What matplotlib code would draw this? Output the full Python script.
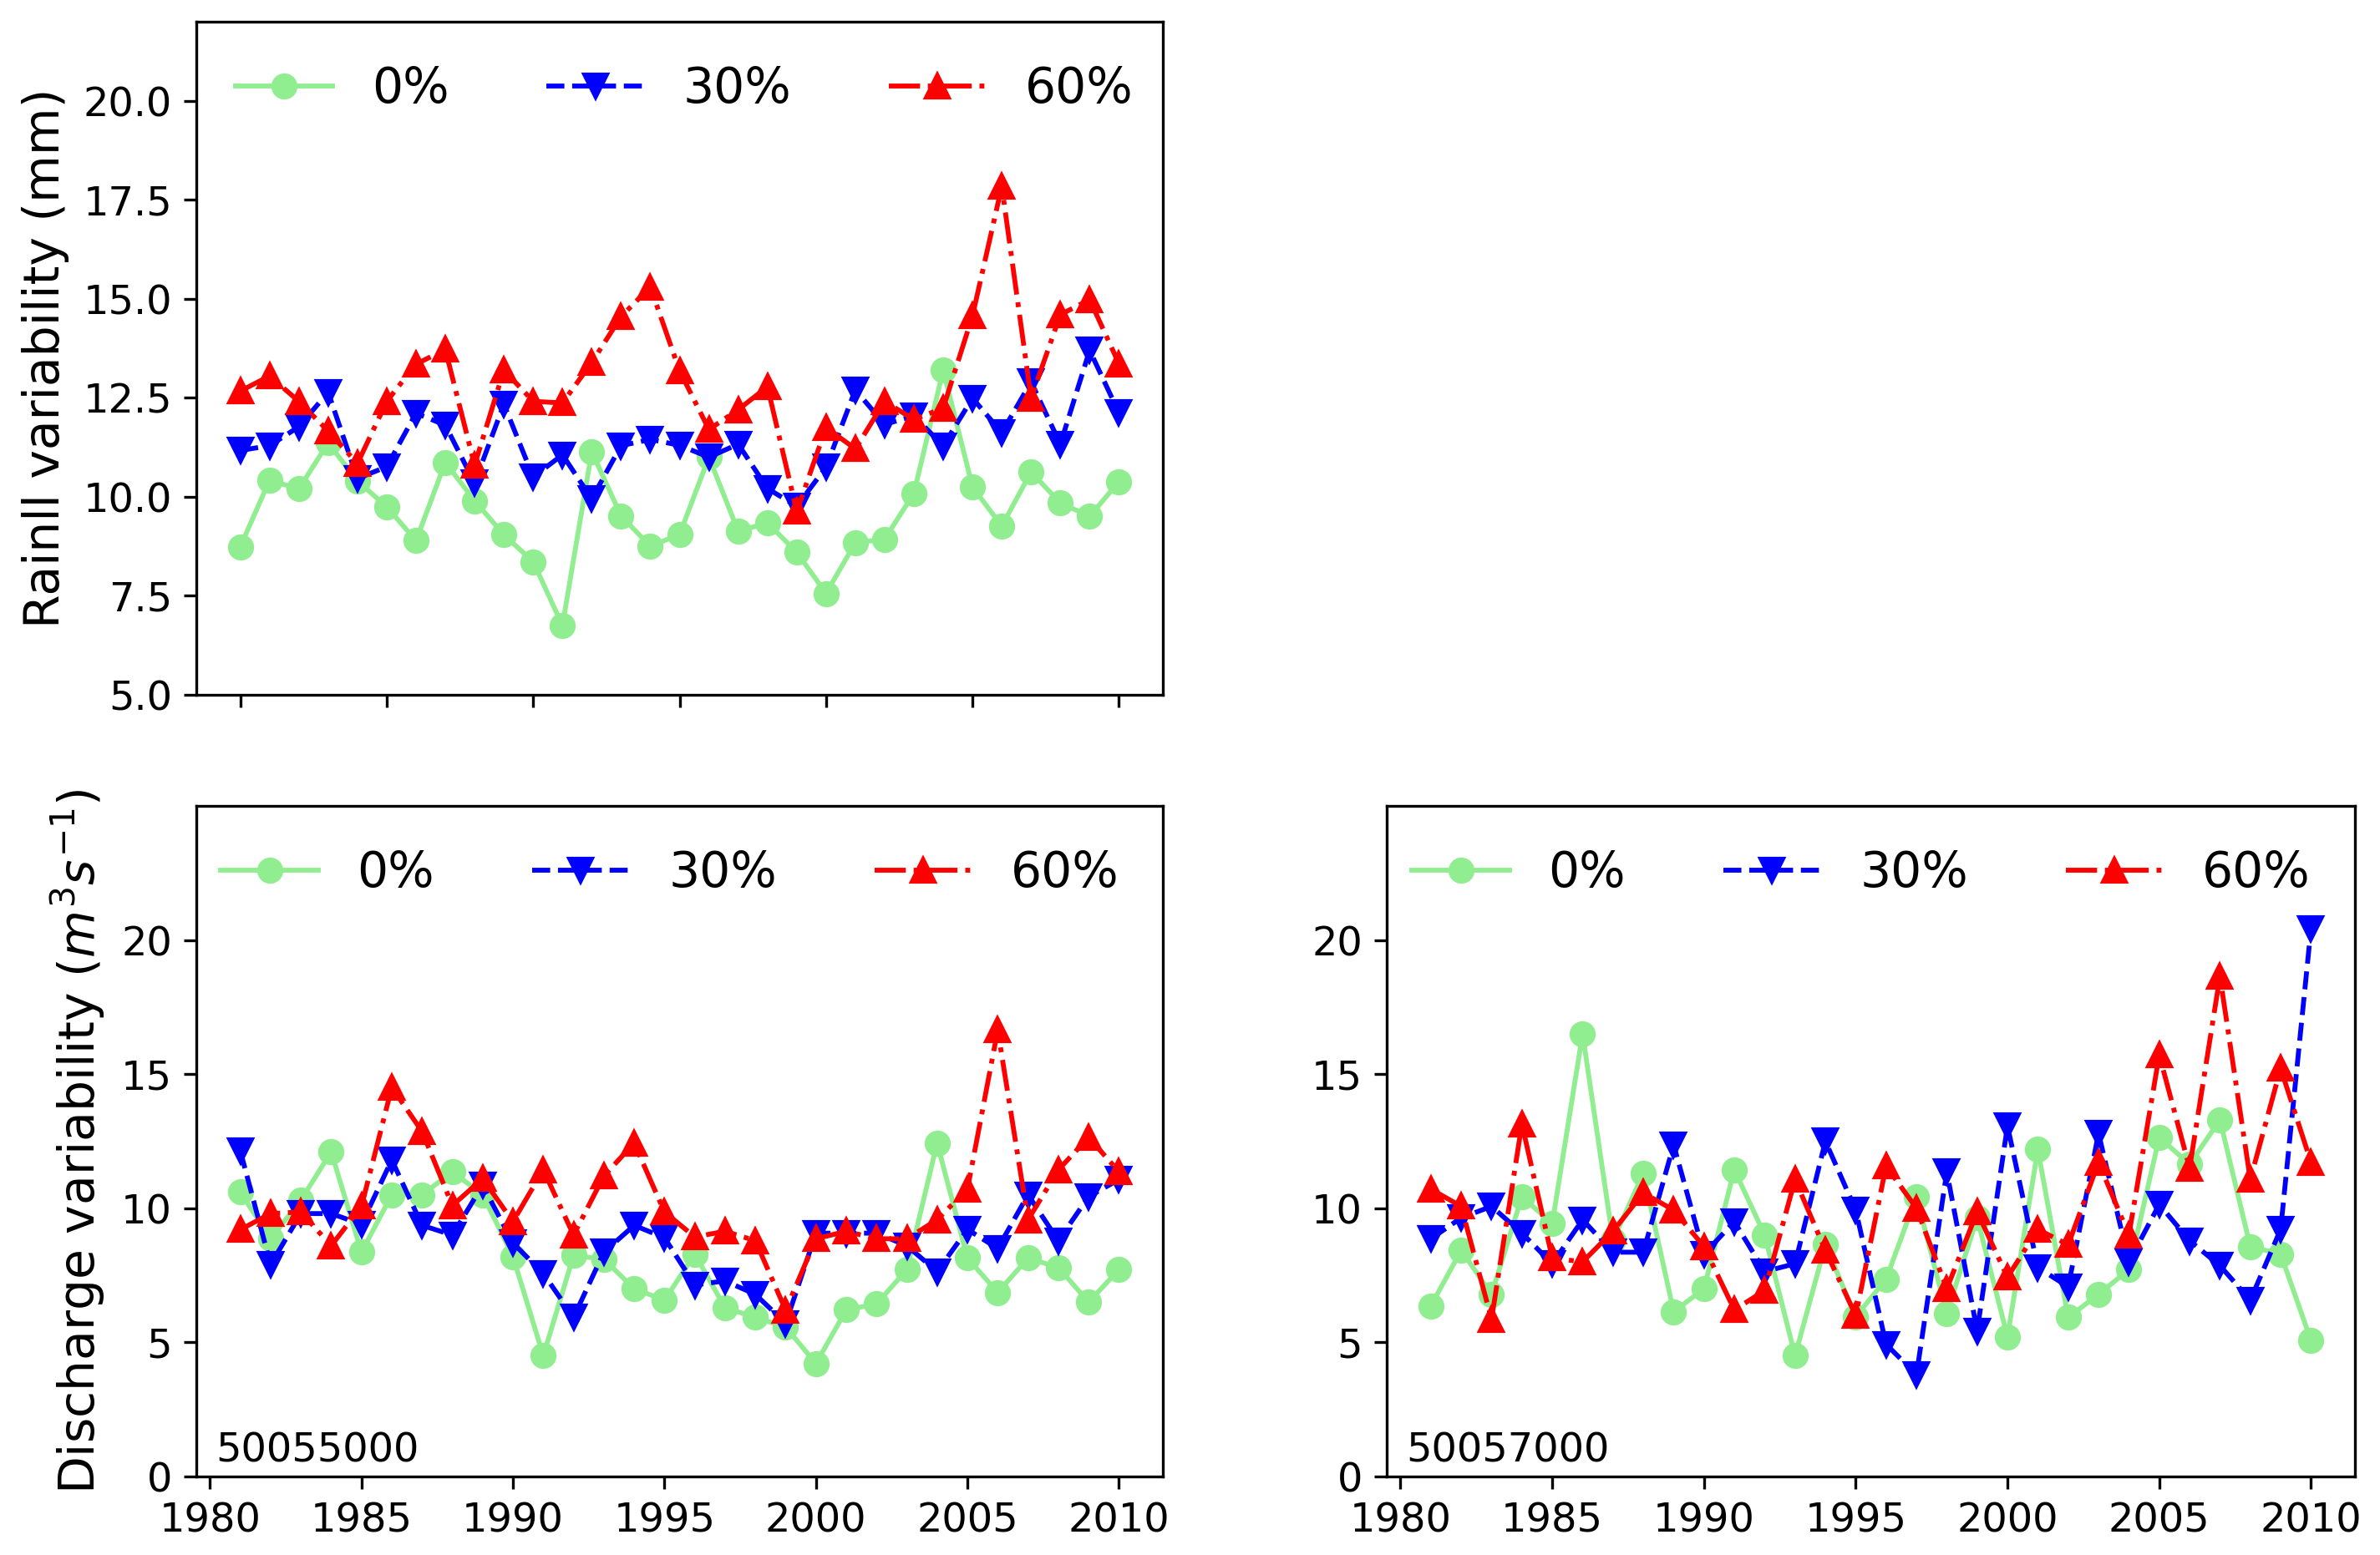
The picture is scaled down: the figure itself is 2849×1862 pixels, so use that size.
import matplotlib
matplotlib.use("Agg")
import matplotlib.pyplot as plt

plt.rcParams['font.family'] = ['DejaVu Sans']

years_rain = list(range(1980, 2011))
years_dis = list(range(1981, 2011))
labels = ['0%', '30%', '60%']
yticks_dis = [0, 5, 10, 15, 20]

rain_0 = [8.74, 10.42, 10.2, 11.36, 10.4, 9.75, 8.89, 10.87, 9.9, 9.04,
          8.36, 6.75, 11.14, 9.52, 8.75, 9.05, 11.0, 9.13, 9.34, 8.6,
          7.56, 8.84, 8.93, 10.09, 13.2, 10.25, 9.26, 10.63, 9.84, 9.51, 10.38]
rain_30 = [11.17, 11.29, 11.77, 12.64, 10.46, 10.76, 12.11, 11.81, 10.35, 12.34,
           10.5, 11.06, 9.95, 11.29, 11.45, 11.3, 11.0, 11.33, 10.21, 9.76,
           10.75, 12.7, 11.83, 12.04, 11.29, 12.49, 11.62, 12.9, 11.33, 13.7, 12.12]
rain_60 = [12.67, 13.05, 12.41, 11.66, 10.84, 12.41, 13.35, 13.72, 10.8, 13.2,
           12.41, 12.37, 13.39, 14.55, 15.3, 13.18, 11.7, 12.2, 12.78, 9.63,
           11.75, 11.21, 12.41, 11.95, 12.24, 14.57, 17.84, 12.49, 14.6, 14.98, 13.36]

dis1_0 = [10.6, 8.86, 10.3, 12.1, 8.36, 10.5, 10.5, 11.36, 10.5, 8.2,
          4.5, 8.24, 8.1, 7.0, 6.57, 8.29, 6.29, 5.93, 5.57, 4.21,
          6.21, 6.43, 7.71, 12.43, 8.14, 6.86, 8.14, 7.79, 6.5, 7.71]
dis1_30 = [12.14, 7.9, 9.8, 9.8, 9.4, 11.8, 9.36, 9.0, 10.86, 8.7,
           7.57, 5.93, 8.36, 9.36, 8.9, 7.14, 7.29, 6.79, 5.71, 9.07,
           9.07, 9.07, 8.6, 7.64, 9.21, 8.5, 10.5, 8.79, 10.43, 11.07]
dis1_60 = [9.2, 9.8, 9.86, 8.6, 10.07, 14.5, 12.86, 10.1, 11.1, 9.5,
           11.43, 9.0, 11.2, 12.43, 9.86, 8.93, 9.14, 8.79, 6.2, 8.86,
           9.14, 8.86, 8.86, 9.57, 10.71, 16.64, 9.57, 11.43, 12.64, 11.36]

dis2_0 = [6.36, 8.43, 6.79, 10.43, 9.43, 16.5, 8.8, 11.29, 6.14, 7.0,
          11.43, 9.0, 4.5, 8.64, 5.95, 7.36, 10.43, 6.07, 9.64, 5.21,
          12.19, 5.93, 6.79, 7.71, 12.64, 11.64, 13.29, 8.57, 8.29, 5.07]
dis2_30 = [8.86, 9.64, 10.07, 9.07, 7.93, 9.57, 8.36, 8.36, 12.36, 8.29,
           9.5, 7.64, 7.93, 12.5, 9.93, 4.93, 3.79, 11.36, 5.43, 13.07,
           7.79, 7.07, 12.79, 8.0, 10.14, 8.79, 7.86, 6.57, 9.21, 20.43]
dis2_60 = [10.71, 10.07, 5.86, 13.14, 8.14, 8.0, 9.14, 10.57, 9.93, 8.57,
           6.21, 6.93, 11.07, 8.43, 6.0, 11.57, 10.0, 7.0, 9.86, 7.43,
           9.21, 8.64, 11.71, 9.0, 15.71, 11.5, 18.64, 11.07, 15.21, 11.71]

stations = ['50055000', '50057000']

styles = [dict(color='lightgreen', linestyle='-', marker='o'),
          dict(color='blue', linestyle='--', marker='v'),
          dict(color='red', linestyle='-.', marker='^')]

TICK_FS = 11.5
LEG_FS = 14
LAB_FS = 14

fig = plt.figure(figsize=(2849 / 300, 1862 / 300), dpi=300)
ax_top = fig.add_axes([0.0825, 0.5532, 0.4061, 0.4329])
ax_bl = fig.add_axes([0.0825, 0.0505, 0.4061, 0.4313])
ax_br = fig.add_axes([0.5827, 0.0505, 0.4068, 0.4313])


def draw(ax, x, series, anchor_x):
    for s, st, lab in zip(series, styles, labels):
        ax.plot(x, s, label=lab, linewidth=1.4, markersize=6.5, **st)
    ax.legend(loc='upper center', bbox_to_anchor=(anchor_x, 1.0), ncol=3,
              frameon=False, fontsize=LEG_FS)
    ax.tick_params(labelsize=TICK_FS)


draw(ax_top, years_rain, [rain_0, rain_30, rain_60], 0.505)
ax_top.set_ylim(5, 22)
ax_top.set_ylabel('Rainll variability (mm)', fontsize=LAB_FS)
ax_top.tick_params(labelbottom=False)

draw(ax_bl, years_dis, [dis1_0, dis1_30, dis1_60], 0.49)
draw(ax_br, years_dis, [dis2_0, dis2_30, dis2_60], 0.49)
for ax, st in zip([ax_bl, ax_br], stations):
    ax.set_ylim(0, 25)
    ax.set_yticks(yticks_dis)
    ax.set_xticks([1980, 1985, 1990, 1995, 2000, 2005, 2010])
    ax.text(0.02, 0.022, st, transform=ax.transAxes, fontsize=TICK_FS,
            va='baseline', ha='left')
ax_bl.set_ylabel('Discharge variability ($m^3s^{-1}$)', fontsize=LAB_FS)

fig.savefig('out.png', dpi=300)
